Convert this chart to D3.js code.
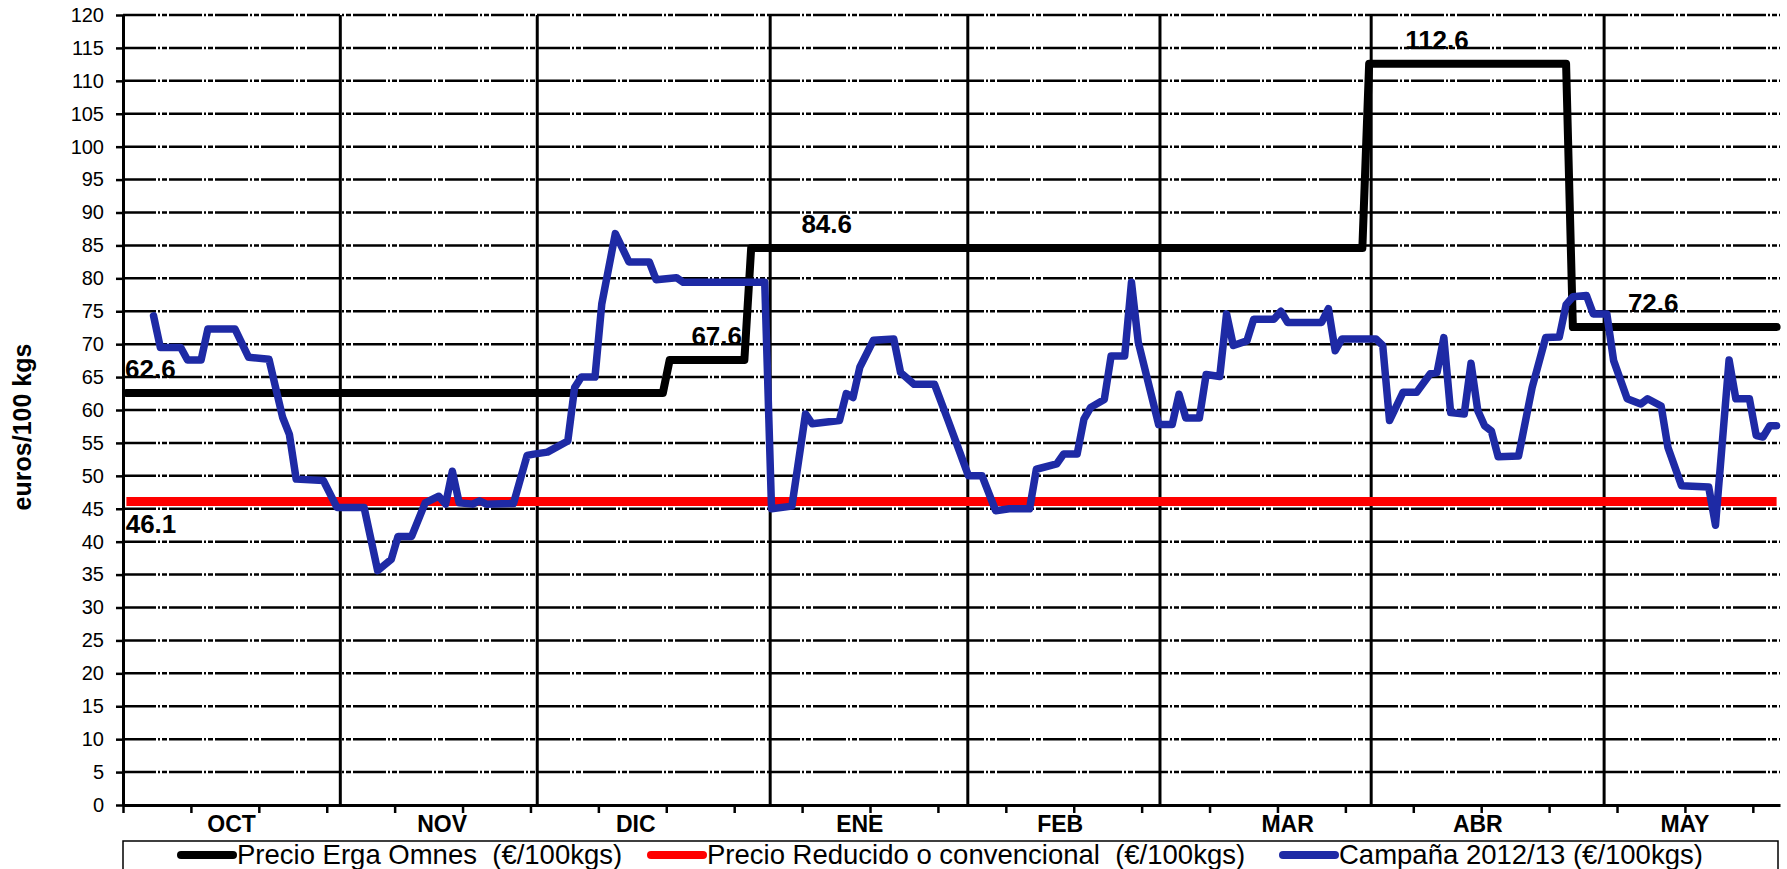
<!DOCTYPE html>
<html>
<head>
<meta charset="utf-8">
<script src="https://cdn.jsdelivr.net/npm/d3@7/dist/d3.min.js"></script>
<style>
  body { margin: 0; background: #fff; }
  text { font-family: "Liberation Sans", Arial, sans-serif; fill: #000; }
</style>
</head>
<body>
<svg id="chart" width="1787" height="869"></svg>
<script>
// campaign days (category index from 1 Oct), values in euros/100 kgs
var nDays = 244;
var months = ["OCT", "NOV", "DIC", "ENE", "FEB", "MAR", "ABR", "MAY"];
var monthLabelDays = [16, 47, 75.5, 108.5, 138, 171.5, 199.5, 230];
var monthBreakDays = [32, 61, 95.3, 124.4, 152.7, 183.8, 218.1];
var yTickValues = [0, 5, 10, 15, 20, 25, 30, 35, 40, 45, 50, 55, 60, 65, 70, 75, 80, 85, 90, 95, 100, 105, 110, 115, 120];
var xTickDays = [0, 10, 20, 30, 40, 50, 60, 70, 80, 90, 100, 110, 120, 130, 140, 150, 160, 170, 180, 190, 200, 210, 220, 230, 240];

// Precio Erga Omnes
var erga = [[0, 62.6], [79, 62.6], [80, 67.6], [91, 67.6], [92, 84.6], [182, 84.6],
            [183, 112.6], [212, 112.6], [213, 72.6], [243, 72.6]];
// Precio Reducido o convencional
var reducido = [[0, 46.1], [243, 46.1]];
// Campaña 2012/13
var campana = [
  [4, 74.3], [5, 69.5], [8, 69.5], [9, 67.6], [11, 67.6], [12, 72.3], [16, 72.3], [18, 68.0],
  [21, 67.7], [23, 58.9], [24, 56.3], [25, 49.5], [29, 49.3], [31, 45.2], [35, 45.2], [37, 35.6],
  [39, 37.3], [40, 40.8], [42, 40.8], [44, 45.9], [46, 46.9], [47, 45.7], [48, 50.7], [49, 45.9],
  [51, 45.7], [52, 46.2], [53, 45.7], [57, 45.8], [59, 53.1], [60, 53.3], [62, 53.6], [65, 55.3],
  [66, 63.4], [67, 65.0], [69, 65.0], [70, 76.1], [72, 86.8], [74, 82.5], [77, 82.5], [78, 79.8],
  [81, 80.1], [82, 79.4], [94, 79.4], [95, 45.0], [98, 45.4], [100, 59.4], [101, 57.9], [105, 58.4],
  [106, 62.5], [107, 61.9], [108, 66.5], [110, 70.6], [113, 70.8], [114, 65.7], [116, 63.9], [119, 63.9],
  [121, 58.4], [124, 50.0], [126, 50.0], [128, 44.7], [130, 45.0], [133, 45.0], [134, 51.0], [137, 51.8],
  [138, 53.3], [140, 53.3], [141, 58.6], [142, 60.4], [144, 61.6], [145, 68.2], [147, 68.2], [148, 79.4],
  [149, 70.3], [152, 57.8], [154, 57.8], [155, 62.4], [156, 58.8], [158, 58.8], [159, 65.4], [161, 65.1],
  [162, 74.6], [163, 69.8], [165, 70.5], [166, 73.8], [169, 73.8], [170, 75.0], [171, 73.3], [176, 73.3],
  [177, 75.4], [178, 69.0], [179, 70.8], [184, 70.8], [185, 69.8], [186, 58.4], [188, 62.7], [190, 62.7],
  [192, 65.5], [193, 65.7], [194, 71.0], [195, 59.6], [197, 59.4], [198, 67.1], [199, 59.9], [200, 57.6],
  [201, 56.8], [202, 52.9], [205, 53.0], [207, 63.4], [209, 71.0], [211, 71.1], [212, 76.0], [213, 77.2],
  [215, 77.4], [216, 74.6], [218, 74.6], [219, 67.5], [221, 61.7], [223, 60.9], [224, 61.7], [226, 60.6],
  [227, 54.3], [229, 48.5], [233, 48.3], [234, 42.5], [236, 67.6], [237, 61.7], [239, 61.7], [240, 56.1],
  [241, 55.9], [242, 57.6], [243, 57.6]
];

var priceLabels = [
  {text: "62.6", day: 0.3, value: 62.6, pos: "above"},
  {text: "46.1", day: 0.4, value: 46.1, pos: "below"},
  {text: "67.6", day: 83.7, value: 67.6, pos: "above"},
  {text: "84.6", day: 99.9, value: 84.6, pos: "above"},
  {text: "112.6", day: 188.8, value: 112.6, pos: "above"},
  {text: "72.6", day: 221.6, value: 72.6, pos: "above"}
];

var legendItems = [
  {name: "Precio Erga Omnes  (\u20ac/100kgs)", color: "#000000", x: 177},
  {name: "Precio Reducido o convencional  (\u20ac/100kgs)", color: "#ff0000", x: 647},
  {name: "Campa\u00f1a 2012/13 (\u20ac/100kgs)", color: "#1e2aa5", x: 1279}
];

function drawChart() {
  var svg = d3.select("#chart");
  var plotLeft = 123, plotRight = 1780, plotTop = 15, plotBottom = 805;

  var x = d3.scaleLinear().domain([0, nDays]).range([plotLeft, plotRight]);
  var y = d3.scaleLinear().domain([0, 120]).range([plotBottom, plotTop]);

  // dash-dot-dot gridlines
  svg.append("g").selectAll("line")
    .data(yTickValues.filter(function(v) { return v > 0; }))
    .enter().append("line")
    .attr("x1", plotLeft).attr("x2", plotRight)
    .attr("y1", function(d) { return y(d); })
    .attr("y2", function(d) { return y(d); })
    .attr("stroke", "#000")
    .attr("stroke-width", 2.5)
    .attr("stroke-dasharray", "33,2,2,2,5,2");

  // month separators
  svg.append("g").selectAll("line")
    .data(monthBreakDays)
    .enter().append("line")
    .attr("x1", function(d) { return x(d); })
    .attr("x2", function(d) { return x(d); })
    .attr("y1", y(120)).attr("y2", y(0))
    .attr("stroke", "#000")
    .attr("stroke-width", 3);

  // axes
  var yAxis = d3.axisLeft(y).tickValues(yTickValues).tickSize(7).tickSizeOuter(0).tickPadding(12);
  var gy = svg.append("g").attr("transform", "translate(" + plotLeft + ",0)").call(yAxis);
  gy.selectAll("text").style("font-size", "20px").attr("fill", "#000");

  var xAxis = d3.axisBottom(x).tickValues(xTickDays).tickSize(8).tickSizeOuter(0).tickFormat("");
  var gx = svg.append("g").attr("transform", "translate(0," + plotBottom + ")").call(xAxis);

  [gy, gx].forEach(function(g) {
    g.select(".domain").attr("stroke", "#000").attr("stroke-width", 3);
    g.selectAll(".tick line").attr("stroke", "#000").attr("stroke-width", 2.5);
  });

  svg.append("g").selectAll("text")
    .data(months)
    .enter().append("text")
    .attr("x", function(d, i) { return x(monthLabelDays[i]); })
    .attr("y", 832)
    .attr("text-anchor", "middle")
    .style("font-size", "23px")
    .style("font-weight", "bold")
    .text(function(d) { return d; });

  svg.append("text")
    .attr("transform", "translate(31,427) rotate(-90)")
    .attr("text-anchor", "middle")
    .style("font-size", "25px")
    .style("font-weight", "bold")
    .text("euros/100 kgs");

  // series
  var line = d3.line()
    .x(function(d) { return x(d[0] + 0.5); })
    .y(function(d) { return y(d[1]); });

  svg.append("path").datum(reducido)
    .attr("d", line).attr("fill", "none")
    .attr("stroke", "#ff0000").attr("stroke-width", 9);

  svg.append("path").datum(erga)
    .attr("d", line).attr("fill", "none")
    .attr("stroke", "#000").attr("stroke-width", 8)
    .attr("stroke-linejoin", "round").attr("stroke-linecap", "round");

  svg.append("path").datum(campana)
    .attr("d", line).attr("fill", "none")
    .attr("stroke", "#1e2aa5").attr("stroke-width", 7.5)
    .attr("stroke-linejoin", "round").attr("stroke-linecap", "round");

  svg.append("g").selectAll("text")
    .data(priceLabels)
    .enter().append("text")
    .attr("x", function(d) { return x(d.day); })
    .attr("y", function(d) { return y(d.value) + (d.pos == "below" ? 31 : -15); })
    .style("font-size", "26px")
    .style("font-weight", "bold")
    .text(function(d) { return d.text; });

  // legend
  svg.append("rect")
    .attr("x", 123).attr("y", 841)
    .attr("width", 1655).attr("height", 60)
    .attr("fill", "#fff").attr("stroke", "#000").attr("stroke-width", 1.5);

  var leg = svg.append("g").selectAll("g")
    .data(legendItems)
    .enter().append("g")
    .attr("transform", function(d) { return "translate(" + d.x + ",855)"; });

  leg.append("line")
    .attr("x1", 4).attr("x2", 56)
    .attr("stroke", function(d) { return d.color; })
    .attr("stroke-width", 8)
    .attr("stroke-linecap", "round");

  leg.append("text")
    .attr("x", 60).attr("y", 9)
    .style("font-size", "27.5px")
    .style("white-space", "pre")
    .text(function(d) { return d.name; });
}

drawChart();
</script>
</body>
</html>
